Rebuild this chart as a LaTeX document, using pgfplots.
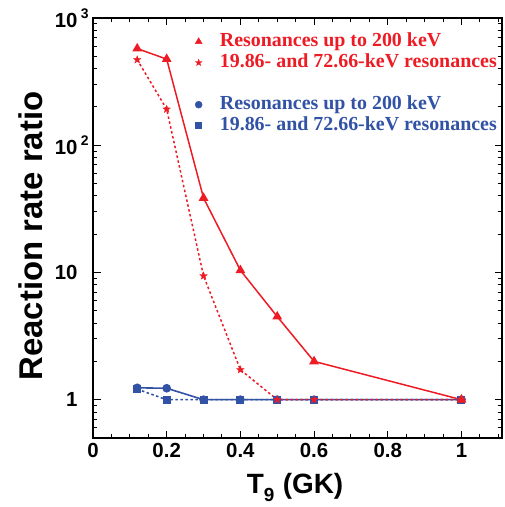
\documentclass[border=0pt]{standalone}
\usepackage{pgfplots}
\pgfplotsset{compat=1.18}
\usepackage{fontspec}
\setmainfont{Liberation Sans}
\newfontfamily\legfont{Liberation Serif}
\definecolor{myred}{RGB}{237,28,36}
\definecolor{myblue}{RGB}{50,82,165}
\newcommand{\expo}[1]{\rlap{\,\raisebox{0.8ex}{\fontsize{14}{14}\selectfont #1}}}
\pgfdeclareplotmark{fstar}{%
  \pgfpathmoveto{\pgfpointpolar{90}{\pgfplotmarksize}}%
  \pgfpathlineto{\pgfpointpolar{126}{0.42\pgfplotmarksize}}%
  \pgfpathlineto{\pgfpointpolar{162}{\pgfplotmarksize}}%
  \pgfpathlineto{\pgfpointpolar{198}{0.42\pgfplotmarksize}}%
  \pgfpathlineto{\pgfpointpolar{234}{\pgfplotmarksize}}%
  \pgfpathlineto{\pgfpointpolar{270}{0.42\pgfplotmarksize}}%
  \pgfpathlineto{\pgfpointpolar{306}{\pgfplotmarksize}}%
  \pgfpathlineto{\pgfpointpolar{342}{0.42\pgfplotmarksize}}%
  \pgfpathlineto{\pgfpointpolar{18}{\pgfplotmarksize}}%
  \pgfpathlineto{\pgfpointpolar{54}{0.42\pgfplotmarksize}}%
  \pgfpathclose
  \pgfusepathqfillstroke}
\pgfplotsset{mylegimg/.style={legend image code/.code={\path (0bp,0bp) (20bp,0bp); \draw[##1] plot coordinates {(0bp,0bp)};}}}
\begin{document}
\begin{tikzpicture}
\begin{axis}[
  scale only axis,
  width=409bp, height=420bp,
  xmin=0, xmax=1.11,
  ymode=log, ymin=0.5, ymax=1000,
  xtick={0,0.2,0.4,0.6,0.8,1},
  xticklabels={0,0.2,0.4,0.6,0.8,1},
  minor x tick num=3,
  ytick={1,10,100,1000},
  yticklabels={1,10,{10\expo{2}},{10\expo{3}}},
  tick align=inside,
  major tick length=7.5bp,
  minor tick length=4.5bp,
  tick style={black, line width=1bp},
  axis line style={black, line width=1.3bp},
  tick label style={font=\fontsize{20.5}{22}\selectfont\bfseries},
  yticklabel style={xshift=-12bp},
  xticklabel style={yshift=-2bp},
  /pgf/number format/assume math mode=true,
  xlabel={T\raisebox{-0.5ex}{\fontsize{19}{19}\selectfont 9}\kern0.3em (GK)},
  ylabel={Reaction rate ratio},
  xlabel style={font=\fontsize{28}{28}\selectfont\bfseries, at={(axis description cs:0.494,-0.133)}, anchor=base},
  ylabel style={font=\fontsize{33}{34}\selectfont\bfseries, at={(axis description cs:-0.152,0.481)}, anchor=center},
  legend style={draw=none, fill=none, at={(rel axis cs:1,1)}, xshift=-4bp, yshift=-13bp, anchor=north east,
    font=\legfont\fontsize{20}{20}\selectfont\bfseries, row sep=0pt,
    inner sep=0pt, nodes={inner sep=1bp, text height=14bp, text depth=5bp}, cells={anchor=west}},
  legend cell align=left,
]
\addplot[myblue, line width=1.6bp, mark=*, mark size=3.5bp, forget plot]
  coordinates {(0.12,1.24) (0.2,1.23) (0.3,1) (0.4,1) (0.5,1) (0.6,1) (1.0,1)};
\addplot[myblue, line width=1.6bp, dash pattern=on 2.5bp off 2.5bp, mark=square*, mark size=3.2bp, mark options={solid}, forget plot]
  coordinates {(0.12,1.21) (0.2,1) (0.3,1) (0.4,1) (0.5,1) (0.6,1) (1.0,1)};
\addplot[myred, line width=1.5bp, mark=triangle*, mark size=4.2bp, forget plot]
  coordinates {(0.12,575) (0.2,475) (0.3,38.5) (0.4,10.4) (0.5,4.5) (0.6,2.0) (1.0,1)};
\addplot[myred, line width=1.5bp, dash pattern=on 2.5bp off 2.5bp, mark=fstar, mark size=4bp, mark options={solid, line width=0.3bp}, forget plot]
  coordinates {(0.12,470) (0.2,192) (0.3,9.4) (0.4,1.72) (0.5,1) (0.6,1) (1.0,1)};
\addlegendimage{only marks, mark=triangle*, mark size=4bp, myred, mylegimg}
\addlegendentry{\textcolor{myred}{Resonances up to 200 keV}}
\addlegendimage{only marks, mark=fstar, mark size=3.5bp, myred, mark options={line width=0.3bp}, mylegimg}
\addlegendentry{\textcolor{myred}{19.86- and 72.66-keV resonances}}
\addlegendimage{empty legend}
\addlegendentry{\strut}
\addlegendimage{only marks, mark=*, mark size=3.5bp, myblue, mylegimg}
\addlegendentry{\textcolor{myblue}{Resonances up to 200 keV}}
\addlegendimage{only marks, mark=square*, mark size=3bp, myblue, mylegimg}
\addlegendentry{\textcolor{myblue}{19.86- and 72.66-keV resonances}}
\end{axis}
% tick marks on all four sides of the axis box (box is 409bp x 420bp)
\begin{scope}[shift={(current axis.south west)}, x=1bp, y=1bp, line width=1bp, black]
\foreach \t in {0,0.2,0.4,0.6,0.8,1} {
  \draw ({409*\t/1.11},0) -- ++(0,7.5);
  \draw ({409*\t/1.11},420) -- ++(0,-7.5);
}
\foreach \t in {0.05,0.1,0.15,0.25,0.3,0.35,0.45,0.5,0.55,0.65,0.7,0.75,0.85,0.9,0.95,1.05,1.1} {
  \draw ({409*\t/1.11},0) -- ++(0,4.5);
  \draw ({409*\t/1.11},420) -- ++(0,-4.5);
}
\foreach \v in {1,10,100,1000} {
  \draw (0,{420*(log10(\v)+0.30103)/3.30103}) -- ++(7.5,0);
  \draw (409,{420*(log10(\v)+0.30103)/3.30103}) -- ++(-7.5,0);
}
\foreach \v in {0.6,0.7,0.8,0.9,2,3,4,5,6,7,8,9,20,30,40,50,60,70,80,90,200,300,400,500,600,700,800,900} {
  \draw (0,{420*(log10(\v)+0.30103)/3.30103}) -- ++(4.5,0);
  \draw (409,{420*(log10(\v)+0.30103)/3.30103}) -- ++(-4.5,0);
}
\end{scope}
\pgfresetboundingbox
\path (current axis.south west) ++(-93bp,-69bp) coordinate (bbA);
\path (current axis.north east) ++(2.5bp,18bp) coordinate (bbB);
\useasboundingbox (bbA) rectangle (bbB);
\end{tikzpicture}
\end{document}
